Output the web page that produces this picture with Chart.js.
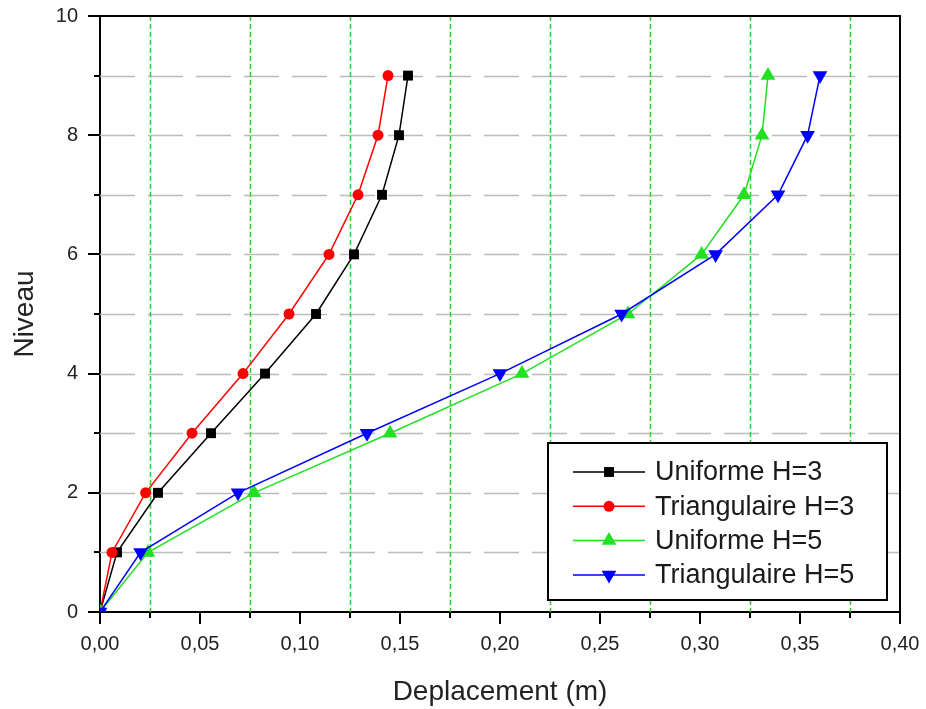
<!DOCTYPE html>
<html><head><meta charset="utf-8">
<script src="https://cdn.jsdelivr.net/npm/chart.js@4/dist/chart.umd.min.js"></script>
<style>html,body{margin:0;padding:0;background:#fff}#wrap{width:926px;height:709px;position:relative}</style>
</head><body><div id="wrap"><canvas id="c"></canvas></div>
<script>
// ---- data ----
const levels = [0, 1, 2, 3, 4, 5, 6, 7, 8, 9];
const uniformeH3 = [0, 0.0085, 0.029, 0.0555, 0.0825, 0.108, 0.127, 0.141, 0.1495, 0.154];
const triangulaireH3 = [0, 0.006, 0.0228, 0.046, 0.0715, 0.0945, 0.1145, 0.129, 0.139, 0.144];
const uniformeH5 = [0, 0.024, 0.077, 0.145, 0.211, 0.264, 0.3008, 0.322, 0.331, 0.334];
const triangulaireH5 = [0, 0.0203, 0.069, 0.1335, 0.200, 0.2608, 0.3078, 0.339, 0.3538, 0.360];
const seriesLabels = ['Uniforme H=3', 'Triangulaire H=3', 'Uniforme H=5', 'Triangulaire H=5'];
const xTitle = 'Deplacement (m)';
const yTitle = 'Niveau';
const xRange = [0, 0.4];
const yRange = [0, 10];
const xTickStep = 0.05;
const yTickStep = 2;

// ---- styles ----
const FONT = "'Liberation Sans', Arial, sans-serif";
const seriesColors = ['#000000', '#ff0000', '#22e022', '#0000ff'];
const seriesMarkers = ['rect', 'circle', 'triangle', 'triangle'];
const markerRotation = [0, 0, 0, 180];
const markerRadius = [7, 5.5, 8.5, 8.5];
const series = [uniformeH3, triangulaireH3, uniformeH5, triangulaireH5];

const datasets = series.map((vals, i) => ({
  label: seriesLabels[i],
  data: vals.map((v, j) => ({ x: v, y: levels[j] })),
  borderColor: seriesColors[i],
  backgroundColor: seriesColors[i],
  pointBackgroundColor: seriesColors[i],
  borderWidth: 1.5,
  showLine: true,
  pointStyle: seriesMarkers[i],
  rotation: markerRotation[i],
  pointRadius: markerRadius[i],
  pointHoverRadius: markerRadius[i],
  pointBorderWidth: 0,
  tension: 0,
  order: series.length - i
}));

const gridPlugin = {
  id: 'originGrid',
  beforeDatasetsDraw(chart) {
    const { ctx, chartArea: a, scales: { x, y } } = chart;
    ctx.save();
    ctx.beginPath();
    ctx.rect(a.left, a.top, a.right - a.left, a.bottom - a.top);
    ctx.clip();
    ctx.strokeStyle = '#bcbcbc';
    ctx.lineWidth = 1.5;
    ctx.setLineDash([35, 13]);
    for (let v = y.min + yTickStep / 2; v < y.max; v += yTickStep / 2) {
      const py = Math.round(y.getPixelForValue(v)) + 0.5;
      ctx.beginPath(); ctx.moveTo(a.left, py); ctx.lineTo(a.right, py); ctx.stroke();
    }
    ctx.strokeStyle = '#2bd42b';
    ctx.setLineDash([5, 3]);
    for (let v = x.min + xTickStep / 2; v < x.max; v += xTickStep) {
      const px = Math.round(x.getPixelForValue(v)) + 0.5;
      ctx.beginPath(); ctx.moveTo(px, a.top); ctx.lineTo(px, a.bottom); ctx.stroke();
    }
    ctx.restore();
  },
  afterDraw(chart) {
    const { ctx, chartArea: a, scales: { x, y } } = chart;
    ctx.save();
    ctx.strokeStyle = '#000';
    ctx.lineWidth = 2;
    ctx.setLineDash([]);
    for (let v = x.min + xTickStep / 2; v < x.max; v += xTickStep) {
      const px = Math.round(x.getPixelForValue(v));
      ctx.beginPath(); ctx.moveTo(px, a.bottom); ctx.lineTo(px, a.bottom + 6); ctx.stroke();
    }
    for (let v = y.min + yTickStep / 2; v < y.max; v += yTickStep) {
      const py = Math.round(y.getPixelForValue(v));
      ctx.beginPath(); ctx.moveTo(a.left, py); ctx.lineTo(a.left - 6, py); ctx.stroke();
    }
    ctx.beginPath();
    ctx.moveTo(a.left - 1, a.top); ctx.lineTo(a.right, a.top); ctx.lineTo(a.right, a.bottom + 1);
    ctx.stroke();

    const bx = a.right - 352, by = a.bottom - 169, bw = 339, bh = 157;
    ctx.fillStyle = '#fff';
    ctx.fillRect(bx, by, bw, bh);
    ctx.strokeRect(bx, by, bw, bh);
    chart.data.datasets.forEach((ds, i) => {
      const ry = by + 29 + i * 34.3;
      ctx.strokeStyle = ds.borderColor;
      ctx.lineWidth = 1.5;
      ctx.beginPath(); ctx.moveTo(bx + 25, ry); ctx.lineTo(bx + 97, ry); ctx.stroke();
      ctx.fillStyle = ds.backgroundColor;
      Chart.helpers.drawPoint(ctx, { pointStyle: ds.pointStyle, rotation: ds.rotation, radius: ds.pointRadius, borderWidth: 0 }, bx + 61, ry);
      ctx.fillStyle = '#1a1a1a';
      ctx.font = '27px ' + FONT;
      ctx.textAlign = 'left';
      ctx.textBaseline = 'middle';
      ctx.fillText(ds.label, bx + 107, ry + 1);
    });
    ctx.restore();
  }
};

new Chart(document.getElementById('c'), {
  type: 'scatter',
  data: { datasets },
  options: {
    responsive: true,
    maintainAspectRatio: false,
    animation: false,
    events: [],
    layout: { padding: { top: 16, right: 26, left: 0, bottom: 0 } },
    plugins: { legend: { display: false }, tooltip: { enabled: false } },
    scales: {
      x: {
        type: 'linear', position: 'bottom', min: xRange[0], max: xRange[1],
        ticks: { stepSize: xTickStep, callback: v => v.toFixed(2).replace('.', ','), font: { family: FONT, size: 20 }, color: '#222', padding: 8, maxRotation: 0, autoSkip: false },
        grid: { display: true, drawOnChartArea: false, drawTicks: true, tickLength: 12, color: '#000', lineWidth: 2 },
        border: { display: true, color: '#000', width: 2 },
        title: { display: true, text: xTitle, font: { family: FONT, size: 28 }, color: '#222', padding: { top: 0, bottom: 0 } },
        afterFit(s) { s.height = 97; s.paddingLeft = 0; s.paddingRight = 0; }
      },
      y: {
        type: 'linear', position: 'left', min: yRange[0], max: yRange[1],
        ticks: { stepSize: yTickStep, callback: v => String(v), font: { family: FONT, size: 20 }, color: '#222', padding: 10 },
        grid: { display: true, drawOnChartArea: false, drawTicks: true, tickLength: 12, color: '#000', lineWidth: 2 },
        border: { display: true, color: '#000', width: 2 },
        title: { display: true, text: yTitle, font: { family: FONT, size: 28 }, color: '#222', padding: { top: 8, bottom: 0 } },
        afterFit(s) { s.width = 100; s.paddingTop = 0; s.paddingBottom = 0; }
      }
    }
  },
  plugins: [gridPlugin]
});
</script>
</body></html>
